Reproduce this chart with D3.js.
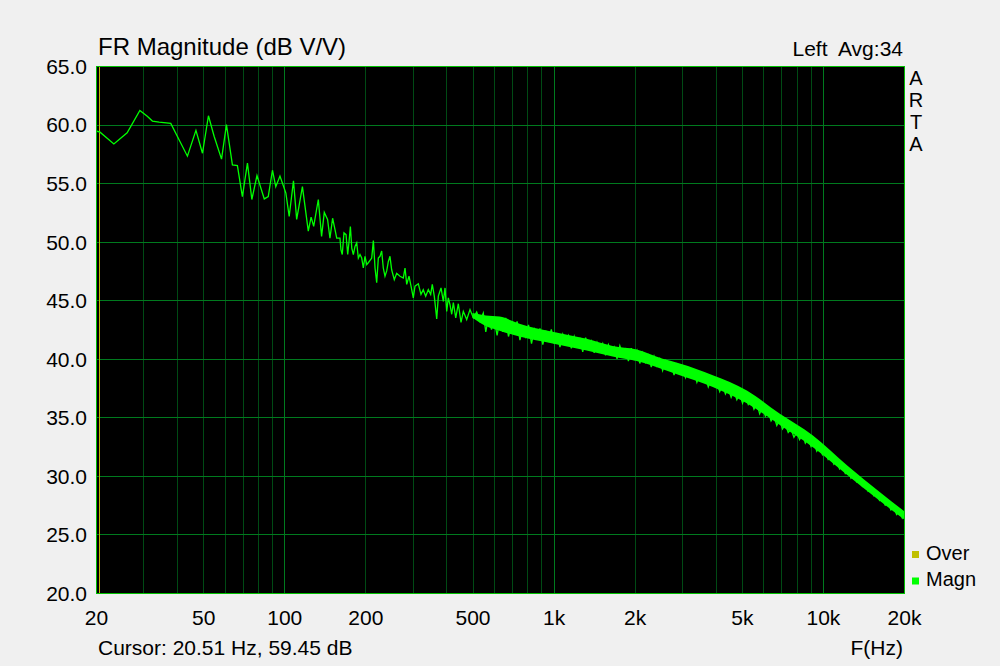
<!DOCTYPE html>
<html><head><meta charset="utf-8">
<script src="https://cdn.jsdelivr.net/npm/d3@7"></script>
<style>
body{margin:0;background:#f0f0f0;}
svg{display:block;font-family:"Liberation Sans",Arial,sans-serif;}
</style>
</head><body>
<svg id="chart" width="1000" height="666"></svg>
<script>
// ---------- data ----------
const xTickValues = [20, 50, 100, 200, 500, 1000, 2000, 5000, 10000, 20000];
const xTickLabels = ["20", "50", "100", "200", "500", "1k", "2k", "5k", "10k", "20k"];
const xGridMinor = [30, 40, 50, 60, 70, 80, 90, 200, 300, 400, 500, 600, 700, 800, 900,
                    2000, 3000, 4000, 5000, 6000, 7000, 8000, 9000];
const xGridMajor = [100, 1000, 10000];
const yTickValues = [20, 25, 30, 35, 40, 45, 50, 55, 60, 65];

const magnFreq = [20, 20.7, 23.3, 26.1, 29.1, 31.0, 32.4, 34.3, 37.9, 43.7, 47.0, 49.7, 52.3, 54.9,
  58.5, 61.0, 64.2, 67.0, 69.9, 73.0, 75.8, 79.2, 84.3, 87.2, 90.4, 93.0, 96.4, 101.4, 104.3, 108.2,
  111.2, 116.8, 122.8, 125.8, 128.6, 133.8, 137.6, 140.8, 144.8, 147.8, 151.2,
  154.4, 156.6, 161.0, 162.4, 164.2, 166.6, 169.6, 172.0, 174.0, 176.0, 178.1, 180.5, 183.1, 185.8,
  188.4, 191.1, 193.9, 196.6, 199.4, 202.4, 205.1, 211.2, 214.2, 217.3, 220.4, 223.5, 226.7, 230.0,
  233.2, 236.6, 240.1, 243.4, 246.9, 250.5, 256.2, 261.5, 269.0, 276.7, 280.8, 284.9, 290.5, 295.6,
  301.4, 305.8, 314.6, 321.9, 328.2, 335.0, 342.6, 349.7, 354.5, 360.6, 368.2, 373.3, 382.0, 389.6,
  395.3, 401.0, 406.6, 412.6, 418.6, 424.4, 433.2, 442.9, 453.2, 462.2, 475.8, 489.4, 503.4, 518.2,
  533.2, 548.3,
  560, 574, 588, 602, 617, 632, 648, 664, 680, 697, 714, 732, 750, 769, 788, 807, 828, 848, 869, 890,
  912, 935, 958, 981, 1005, 1030, 1056, 1082, 1109, 1136, 1164, 1193, 1222, 1252, 1283, 1315, 1348,
  1381, 1415, 1450, 1486, 1522, 1560, 1598, 1638, 1678, 1720, 1762, 1806, 1850, 1896, 1943, 1991,
  2040, 2090, 2142, 2195, 2249, 2305, 2361, 2420, 2479, 2540, 2603, 2667, 2733, 2800, 2870, 2941,
  3014, 3088, 3164, 3242, 3323, 3405, 3489, 3575, 3663, 3753, 3846, 3941, 4039, 4139, 4241, 4346,
  4453, 4563, 4675, 4791, 4909, 5030, 5155, 5282, 5412, 5546, 5683, 5823, 5967, 6114, 6265, 6420,
  6579, 6741, 6908, 7078, 7253, 7432, 7616, 7804, 7997, 8194, 8396, 8604, 8816, 9034, 9257, 9486,
  9720, 9960, 10206, 10458, 10716, 10981, 11252, 11530, 11814, 12106, 12405, 12711, 13025, 13347,
  13677, 14015, 14361, 14715, 15079, 15451, 15833, 16224, 16624, 17035, 17456, 17887, 18328, 18781,
  19245, 19720, 20000];
const magnDb = [59.45, 59.35, 58.35, 59.3, 61.2, 60.7, 60.3, 60.2, 60.1, 57.3, 59.5, 57.55, 60.75, 59.0,
  57.05, 60.0, 56.55, 56.5, 53.85, 56.7, 53.6, 55.65, 53.65, 53.85, 56.1, 54.7, 55.6, 54.15, 52.15, 55.2,
  51.9, 54.7, 50.9, 52.1, 51.3, 53.6, 50.45, 52.5, 51.9, 50.3, 52.0,
  51.0, 50.3, 50.3, 49.3, 48.9, 50.75, 50.6, 48.9, 50.0, 51.3, 49.45, 48.9, 49.6, 49.9,
  48.6, 48.9, 48.6, 47.75, 48.75, 48.05, 48.2, 48.6, 50.1, 47.75, 46.5, 48.6, 48.75, 49.2,
  47.75, 47.05, 47.5, 48.3, 48.75, 47.6, 46.75, 47.3, 47.05, 46.9, 47.75, 46.35, 47.05, 46.2,
  45.2, 46.2, 46.4, 45.5, 45.9, 45.35, 45.9, 45.5, 46.35, 45.35, 43.4, 45.35, 46.05, 44.9,
  46.05, 44.05, 45.2, 44.6, 43.8, 44.8, 43.5, 44.7, 43.1, 44.05, 43.35, 44.2, 43.5, 44.0,
  43.2, 43.9,
  42.3, 43.6, 42.5, 43.3, 42.0, 43.4, 42.3, 43.5, 41.9, 42.9, 42.2, 43.2, 41.6, 42.7, 41.9, 42.9, 41.3, 42.5, 41.8, 42.6,
  41.2, 42.4, 41.6, 42.5, 41.3, 42.2, 41.0, 42.1, 41.5, 42.0, 40.9, 41.9, 41.1, 41.7, 40.6, 41.8, 40.9,
  41.5, 40.5, 41.4, 40.7, 41.3, 40.3, 41.2, 40.5, 41.0, 40.0, 41.1, 40.3, 40.8, 39.8, 40.9, 40.0,
  40.7, 39.6, 40.5, 39.7, 40.3, 39.3, 40.2, 39.4, 40.0, 39.0, 39.8, 39.1, 39.6, 38.6, 39.5, 38.8,
  39.3, 38.4, 39.1, 38.5, 38.9, 38.0, 38.7, 38.1, 38.4, 37.6, 38.3, 37.7, 38.0, 37.2, 37.8, 37.0,
  37.5, 36.7, 37.3, 36.5, 37.0, 36.2, 36.9, 36.1, 36.5, 35.7, 36.2, 35.3, 35.9, 35.1, 35.5, 34.7,
  35.1, 34.3, 34.8, 34.0, 34.4, 33.7, 34.0, 33.3, 33.7, 33.1, 33.6, 32.8, 33.2, 32.5, 32.9, 32.1,
  32.5, 31.8, 32.1, 31.4, 31.7, 31.0, 31.3, 30.6, 30.9, 30.2, 30.5, 29.8, 30.1, 29.5,
  29.8, 29.1, 29.3, 28.7, 28.9, 28.3, 28.5, 27.9, 28.1, 27.5, 27.7, 27.1, 27.3, 26.7,
  27.0, 26.4, 26.6];

const bandFreq = [500, 560, 630, 747, 991, 1326, 1656, 2034, 2542, 2940, 3900, 5218, 6920, 9180, 12280, 16290, 20000];
const bandLo   = [43.5, 42.8, 42.4, 41.9, 41.3, 40.7, 40.2, 39.8, 39.1, 38.6, 37.6, 36.2, 34.35, 32.45, 30.1, 27.85, 26.3];
const bandHi   = [43.9, 43.7, 43.6, 43.0, 42.3, 41.7, 41.1, 40.8, 40.0, 39.6, 38.6, 37.3, 35.3, 33.45, 30.9, 28.6, 27.0];

const legendNames = ["Over", "Magn"];
const cursorFreq = 20.51;
const cursorDb = 59.45;

// ---------- drawing ----------
const svg = d3.select("#chart");
const L = 96, R = 904, T = 66, B = 593;
const x = d3.scaleLog().domain([20, 20000]).range([L, R]);
const y = d3.scaleLinear().domain([20, 65]).range([B, T]);
const px = v => Math.round(v) + 0.5;

svg.append("rect").attr("x", 0).attr("y", 0).attr("width", 1000).attr("height", 666).attr("fill", "#f0f0f0");
svg.append("rect").attr("x", L).attr("y", T).attr("width", R - L).attr("height", B - T).attr("fill", "#000");

svg.append("defs").append("clipPath").attr("id", "clip")
  .append("rect").attr("x", L + 1).attr("y", T + 1).attr("width", R - L - 1).attr("height", B - T - 1);

const grid = svg.append("g").attr("shape-rendering", "crispEdges");
grid.selectAll("line.minor").data(xGridMinor).join("line")
  .attr("x1", d => px(x(d))).attr("x2", d => px(x(d))).attr("y1", T).attr("y2", B)
  .attr("stroke", "#004a14").attr("stroke-width", 1);
grid.selectAll("line.h").data(yTickValues).join("line")
  .attr("x1", L).attr("x2", R).attr("y1", d => px(y(d))).attr("y2", d => px(y(d)))
  .attr("stroke", "#007a1e").attr("stroke-width", 1);
grid.selectAll("line.major").data(xGridMajor).join("line")
  .attr("x1", d => px(x(d))).attr("x2", d => px(x(d))).attr("y1", T).attr("y2", B)
  .attr("stroke", "#007a1e").attr("stroke-width", 1);

// cursor
svg.append("line").attr("shape-rendering", "crispEdges")
  .attr("x1", px(x(cursorFreq))).attr("x2", px(x(cursorFreq))).attr("y1", T).attr("y2", B)
  .attr("stroke", "#c8b400").attr("stroke-width", 1);

const plot = svg.append("g").attr("clip-path", "url(#clip)");
const bandData = bandFreq.map((f, i) => ({f, lo: bandLo[i], hi: bandHi[i]}));
plot.append("path").datum(bandData)
  .attr("d", d3.area().x(d => x(d.f)).y0(d => y(d.lo)).y1(d => y(d.hi)).curve(d3.curveMonotoneX))
  .attr("fill", "#00ff00");
const lineData = magnFreq.map((f, i) => ({f, v: magnDb[i]}));
plot.append("path").datum(lineData)
  .attr("d", d3.line().x(d => x(d.f)).y(d => y(d.v)))
  .attr("fill", "none").attr("stroke", "#00ff00").attr("stroke-width", 1.3);

// frame
svg.append("rect").attr("shape-rendering", "crispEdges")
  .attr("x", L + 0.5).attr("y", T + 0.5).attr("width", R - L).attr("height", B - T)
  .attr("fill", "none").attr("stroke", "#00c000").attr("stroke-width", 1);

// axis labels
const yAxis = d3.axisLeft(y).tickValues(yTickValues).tickFormat(d3.format(".1f")).tickSize(0).tickPadding(9);
const gy = svg.append("g").attr("transform", `translate(${L},0)`).call(yAxis);
gy.select(".domain").remove();
gy.selectAll("text").attr("font-size", 21).attr("fill", "#000").attr("font-family", "Liberation Sans, Arial, sans-serif").attr("dy", "0.35em");

const xAxis = d3.axisBottom(x).tickValues(xTickValues).tickFormat((d, i) => xTickLabels[i]).tickSize(0).tickPadding(0);
const gx = svg.append("g").attr("transform", `translate(0,${B})`).call(xAxis);
gx.select(".domain").remove();
gx.selectAll("text").attr("font-size", 21).attr("fill", "#000").attr("font-family", "Liberation Sans, Arial, sans-serif")
  .attr("dy", null).attr("y", 32);

// titles
svg.append("text").attr("x", 98).attr("y", 55).attr("font-size", 24).attr("fill", "#000").text("FR Magnitude (dB V/V)");
svg.append("text").attr("x", 903).attr("y", 56).attr("font-size", 21).attr("fill", "#000")
  .attr("text-anchor", "end").style("white-space", "pre").text("Left  Avg:34");
["A", "R", "T", "A"].forEach((c, i) => {
  svg.append("text").attr("x", 916).attr("y", 85 + i * 22).attr("font-size", 20).attr("fill", "#000")
    .attr("text-anchor", "middle").text(c);
});
svg.append("text").attr("x", 98).attr("y", 655).attr("font-size", 21).attr("fill", "#000")
  .text(`Cursor: ${cursorFreq} Hz, ${cursorDb} dB`);
svg.append("text").attr("x", 903).attr("y", 655).attr("font-size", 21).attr("fill", "#000")
  .attr("text-anchor", "end").text("F(Hz)");

// legend
const legendColors = ["#c0c000", "#00ff00"];
legendNames.forEach((n, i) => {
  svg.append("rect").attr("x", 912).attr("y", 551 + i * 26.5).attr("width", 7).attr("height", 7).attr("fill", legendColors[i]);
  svg.append("text").attr("x", 926).attr("y", 560 + i * 26).attr("font-size", 20).attr("fill", "#000").text(n);
});
</script>
</body></html>
